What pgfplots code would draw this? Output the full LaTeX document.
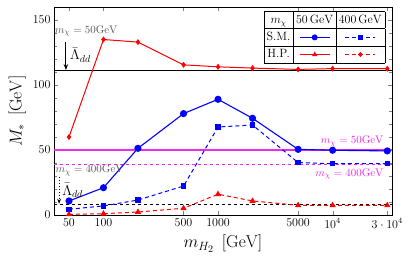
\documentclass[border=0pt]{standalone}
\usepackage{pgfplots}
\pgfplotsset{compat=1.18}
\usetikzlibrary{arrows.meta}
\definecolor{mag}{RGB}{240,40,240}
\begin{document}
\begin{tikzpicture}
\begin{axis}[
  scale only axis, width=338pt, height=208pt,
  xmode=log, xmin=37, xmax=33000, ymin=0, ymax=160,
  xtick={50,100,500,1000,5000,10000,30000},
  xticklabels={50,100,500,1000,5000,$10^4$,$3\cdot10^4$},
  ytick={0,50,100,150}, minor y tick num=4,
  tick label style={font=\large},
  xlabel={$m_{H_2}\;\,[\mathrm{GeV}]$}, ylabel={$M_*\;\,[\mathrm{GeV}]$},
  label style={font=\LARGE},
  axis line style={line width=0.9pt},
  clip=false,
]
% black reference lines
\addplot[black, line width=0.9pt] coordinates {(37,111) (33000,111)};
\addplot[black, dashed, line width=0.8pt] coordinates {(37,8.2) (33000,8.2)};
\addplot[mag, line width=1.1pt] coordinates {(37,50) (33000,50)};
\addplot[mag, dashed, line width=0.8pt] coordinates {(37,39) (33000,39)};
% H.P. 50 GeV
\addplot[red, line width=1pt, mark=diamond*, mark size=2.2pt] coordinates {
(50,60) (100,135) (200,133) (500,115.5) (1000,114) (2000,113) (5000,112) (10000,112.6) (30000,112.5)};
% S.M. 50 GeV
\addplot[blue, line width=1.1pt, mark=*, mark size=3pt] coordinates {
(50,10.8) (100,21) (200,51.3) (500,78) (1000,89) (2000,74.4) (5000,50.5) (10000,49.8) (30000,49.3)};
% S.M. 400 GeV
\addplot[blue, line width=1pt, dash pattern=on 4pt off 3pt, mark=square*, mark size=2.2pt, mark options={solid}] coordinates {
(50,4.4) (100,7) (200,11.5) (500,22.3) (1000,67.7) (2000,69.2) (5000,40.3) (10000,39.5) (30000,39.5)};
% H.P. 400 GeV
\addplot[red, line width=1pt, dash pattern=on 4pt off 3pt, mark=triangle*, mark size=2.6pt, mark options={solid}] coordinates {
(50,0.5) (100,1) (200,2.3) (500,5.2) (1000,16) (2000,10.8) (5000,7.5) (10000,7.5) (30000,7.5)};
% annotations
\node[gray!70!black, anchor=west, font=\fontsize{11}{13}\selectfont, inner sep=0pt] at (axis cs:37.5,141.5) {$m_\chi = 50\mathrm{GeV}$};
\draw[-{Stealth[length=6pt]}, line width=0.9pt] (axis cs:47,133) -- (axis cs:47,111.5);
\node[anchor=west, font=\Large, inner sep=0pt] at (axis cs:51,123) {$\bar{\Lambda}_{dd}$};
\node[gray!70!black, anchor=west, font=\fontsize{11}{13}\selectfont, inner sep=0pt] at (axis cs:38,34) {$m_\chi = 400\mathrm{GeV}$};
\draw[-{Stealth[length=5pt]}, line width=0.9pt, dotted] (axis cs:41,29) -- (axis cs:41,8.6);
\node[anchor=west, font=\Large, inner sep=0pt] at (axis cs:43.5,19) {$\bar{\Lambda}_{dd}$};
\node[mag, anchor=east, font=\fontsize{11}{13}\selectfont, inner sep=0pt] at (axis cs:28000,56.5) {$m_\chi = 50\mathrm{GeV}$};
\node[mag, anchor=east, font=\fontsize{11}{13}\selectfont, inner sep=0pt] at (axis cs:28000,31.5) {$m_\chi = 400\mathrm{GeV}$};
\coordinate (leg) at (rel axis cs:0.979,0.981);
\coordinate (sw) at (rel axis cs:0,0);
\coordinate (ne) at (rel axis cs:1,1);
\end{axis}
\node[anchor=north east, fill=white, inner sep=0pt, font=\large] at (leg) {%
\renewcommand{\arraystretch}{1.2}\setlength{\tabcolsep}{2.8pt}%
\begin{tabular}{|c|c|c|}\hline
$m_\chi$ & $50\,\mathrm{GeV}$ & $400\,\mathrm{GeV}$\\\hline
S.M. & \tikz[baseline=-0.6ex]{\draw[blue,line width=1.1pt] (0,0)--(30pt,0); \fill[blue] (15pt,0) circle (3pt);} &
\tikz[baseline=-0.6ex]{\draw[blue,line width=1pt,dash pattern=on 4pt off 3pt] (0,0)--(30pt,0); \fill[blue] (12.5pt,-2.3pt) rectangle (17.5pt,2.3pt);}\\\hline
H.P. & \tikz[baseline=-0.6ex]{\draw[red,line width=1pt] (0,0)--(30pt,0); \fill[red] (15pt,3pt)--(12.3pt,-1.5pt)--(17.7pt,-1.5pt)--cycle;} &
\tikz[baseline=-0.6ex]{\draw[red,line width=1pt,dash pattern=on 4pt off 3pt] (0,0)--(30pt,0); \fill[red] (15pt,2.5pt)--(17.5pt,0)--(15pt,-2.5pt)--(12.5pt,0)--cycle;}\\\hline
\end{tabular}};
\path ([shift={(-54pt,-52pt)}]sw) ([shift={(23pt,7pt)}]ne);
\end{tikzpicture}
\end{document}
